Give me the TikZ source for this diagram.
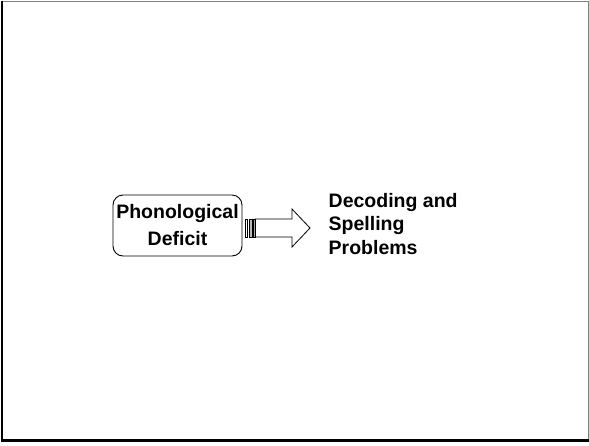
\documentclass[tikz,border=0pt]{standalone}
\usepackage{fontspec}
\setmainfont{Liberation Sans}
\begin{document}
\begin{tikzpicture}[x=1pt,y=-1pt,
  bigtext/.style={font=\bfseries\fontsize{19.5}{23.5}\selectfont},
  causebox/.style={draw, line width=0.9pt, rounded corners=10pt,
    font=\bfseries\fontsize{19.5}{26}\selectfont,
    align=center, minimum width=129pt, minimum height=61pt, inner sep=1pt},
  effecttext/.style={bigtext, align=left, inner sep=0pt, anchor=north west},
  arrowline/.style={draw, line width=0.8pt, line join=miter}]
\useasboundingbox (0,0) rectangle (589,445);
% slide frame: grey top/right edges, dark left/bottom edges
\draw[gray, line width=1pt] (1,1) -- (588,1) -- (588,440);
\draw[black, line width=1.6pt] (2,0.5) -- (2,440.5);
\draw[black, line width=3pt] (1.2,440.5) -- (589,440.5);
% cause box
\node[causebox] (deficit) at (177.5,225.5) {Phonological\\[1pt]Deficit};
% effect text
\node[effecttext] (problems) at (328.5,193) {Decoding and\\Spelling\\Problems};
% striped block arrow from the box towards the text
\coordinate (tail) at (245,228);
\begin{scope}[shift={(tail)}]
  \draw[line width=0.7pt] (0,-9) rectangle (2.5,9);
  \draw[line width=0.7pt, fill=gray!55] (4,-9) rectangle (7,9);
  \draw[line width=0.7pt] (8,-9) rectangle (10,9);
  \path[arrowline] (10,-9) -- (47,-9) -- (47,-19) -- (65,0) -- (47,19) -- (47,9) -- (10,9) -- cycle;
\end{scope}
\end{tikzpicture}
\end{document}
